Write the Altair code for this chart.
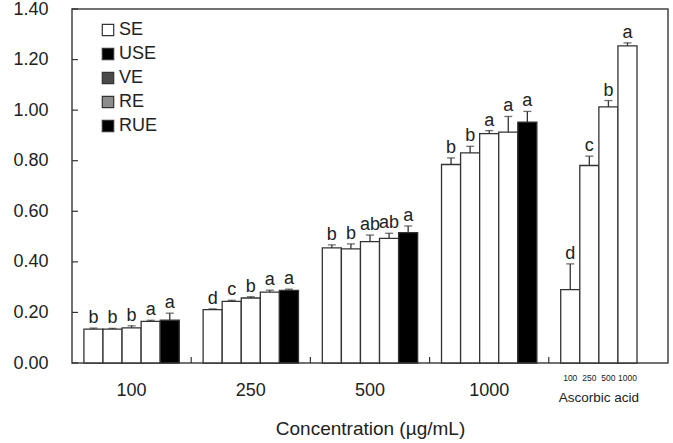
import altair as alt
import pandas as pd

# Concentration groups on the x axis; the last group holds the ascorbic acid standard
groups = ["100", "250", "500", "1000", "Ascorbic acid"]
series = ["SE", "USE", "VE", "RE", "RUE"]

# Mean absorbance of each extract at 100, 250, 500, 1000 µg/mL
se_mean = [0.134, 0.211, 0.455, 0.785]
use_mean = [0.134, 0.244, 0.451, 0.831]
ve_mean = [0.139, 0.257, 0.480, 0.907]
re_mean = [0.165, 0.280, 0.493, 0.913]
rue_mean = [0.169, 0.287, 0.516, 0.953]

# Standard deviations (upper error bars)
se_sd = [0.004, 0.003, 0.012, 0.026]
use_sd = [0.003, 0.004, 0.020, 0.026]
ve_sd = [0.008, 0.005, 0.026, 0.012]
re_sd = [0.004, 0.008, 0.020, 0.062]
rue_sd = [0.028, 0.005, 0.026, 0.042]

# Significance letters per concentration group (SE, USE, VE, RE, RUE)
letters = [
    ["b", "b", "b", "a", "a"],
    ["d", "c", "b", "a", "a"],
    ["b", "b", "ab", "ab", "a"],
    ["b", "b", "a", "a", "a"],
]

# Ascorbic acid reference
aa_conc = ["100", "250", "500", "1000"]
aa_mean = [0.290, 0.781, 1.013, 1.254]
aa_sd = [0.102, 0.037, 0.025, 0.012]
aa_letters = ["d", "c", "b", "a"]

y_ticks = [0.0, 0.2, 0.4, 0.6, 0.8, 1.0, 1.2, 1.4]

# Legend swatch fills
legend_fill = ["white", "black", "#4a4a4a", "#8c8c8c", "black"]

means = [se_mean, use_mean, ve_mean, re_mean, rue_mean]
sds = [se_sd, use_sd, ve_sd, re_sd, rue_sd]

rows = []
for gi, g in enumerate(groups[:4]):
    for si, s in enumerate(series):
        rows.append({
            "group": g, "slot": si, "value": means[si][gi], "err": sds[si][gi],
            "letter": letters[gi][si], "fill": "black" if s == "RUE" else "white",
            "sub": "",
        })
for i, c in enumerate(aa_conc):
    rows.append({
        "group": groups[4], "slot": i, "value": aa_mean[i], "err": aa_sd[i],
        "letter": aa_letters[i], "fill": "white", "sub": c,
    })
df = pd.DataFrame(rows)

FONT = "Liberation Sans"
INK = "#333333"
TXT = "#222222"

x_enc = alt.X(
    "group:N", sort=groups,
    scale=alt.Scale(domain=groups, paddingInner=0, paddingOuter=0),
    axis=alt.Axis(
        title="Concentration (µg/mL)", labelAngle=0, ticks=False, domain=False,
        labelExpr="datum.value == 'Ascorbic acid' ? '' : datum.value",
        labelPadding=18, titlePadding=20, labelFontSize=18, titleFontSize=19,
        titleFontWeight="normal", labelColor=TXT, titleColor=TXT,
        labelFont=FONT, titleFont=FONT,
    ),
)
xoff_enc = alt.XOffset(
    "slot:O", scale=alt.Scale(domain=[0, 1, 2, 3, 4], paddingInner=0, paddingOuter=0.625)
)
y_scale = alt.Scale(domain=[0, 1.4], nice=False, zero=True)

base = alt.Chart(df).transform_calculate(top="datum.value + datum.err")

bars = base.mark_bar(stroke=INK, strokeWidth=1.3).encode(
    x=x_enc,
    xOffset=xoff_enc,
    y=alt.Y(
        "value:Q", scale=y_scale, title=None,
        axis=alt.Axis(
            values=y_ticks, format=".2f", ticks=False, domain=False, grid=False,
            labelPadding=24, labelFontSize=18, labelColor=TXT, labelFont=FONT,
        ),
    ),
    fill=alt.Fill("fill:N", scale=None),
)

err_line = base.mark_rule(color=INK, strokeWidth=1.3).encode(
    x=alt.X("group:N", sort=groups), xOffset=xoff_enc,
    y=alt.Y("value:Q"), y2="top:Q",
)
err_cap = base.mark_tick(orient="horizontal", size=8, thickness=1.3, color=INK).encode(
    x=alt.X("group:N", sort=groups), xOffset=xoff_enc, y=alt.Y("top:Q"),
)
sig = base.mark_text(baseline="alphabetic", dy=-5, fontSize=18, font=FONT, color=TXT).encode(
    x=alt.X("group:N", sort=groups), xOffset=xoff_enc, y=alt.Y("top:Q"), text="letter:N",
)

aa_sub = base.transform_filter(alt.datum.group == groups[4]).mark_text(
    fontSize=8.5, font=FONT, color=TXT, baseline="middle"
).encode(
    x=alt.X("group:N", sort=groups), xOffset=xoff_enc, y=alt.value(369), text="sub:N",
)
aa_title = alt.Chart(pd.DataFrame({"group": [groups[4]]})).mark_text(
    fontSize=13.5, font=FONT, color=TXT, baseline="middle", dx=-9.5
).encode(
    x=alt.X("group:N", sort=groups), y=alt.value(389), text="group:N",
)

# Inward tick marks: group separators on the x axis and value ticks on the y axis
x_ticks = alt.Chart(pd.DataFrame({"group": groups[1:]})).mark_rule(
    color=INK, strokeWidth=1.2
).encode(
    x=alt.X("group:N", sort=groups, bandPosition=0), y=alt.value(348), y2=alt.value(354),
)
y_tick_marks = alt.Chart(pd.DataFrame({"v": y_ticks})).mark_rule(
    color=INK, strokeWidth=1.2
).encode(
    y=alt.Y("v:Q"), x=alt.value(0), x2=alt.value(6),
)

legend_df = pd.DataFrame({"label": series, "swatch": legend_fill, "idx": list(range(len(series)))})
legend_base = alt.Chart(legend_df).transform_calculate(py="21 + 24 * datum.idx")
legend_box = legend_base.mark_square(size=130, stroke=INK, strokeWidth=1.2, opacity=1).encode(
    x=alt.value(36), y=alt.Y("py:Q", scale=None), fill=alt.Fill("swatch:N", scale=None),
)
legend_text = legend_base.mark_text(
    align="left", baseline="middle", fontSize=18, font=FONT, color=TXT
).encode(
    x=alt.value(47), y=alt.Y("py:Q", scale=None), text="label:N",
)

chart = alt.layer(
    bars, err_line, err_cap, sig, aa_sub, aa_title, x_ticks, y_tick_marks,
    legend_box, legend_text,
).properties(
    width=596, height=354,
    autosize=alt.AutoSizeParams(type="none"),
    padding={"left": 72, "top": 9, "right": 5, "bottom": 80},
).configure_view(
    stroke="#444444", strokeWidth=1.5
)

chart.save("out.html", embed_options={"renderer": "svg", "actions": False})
